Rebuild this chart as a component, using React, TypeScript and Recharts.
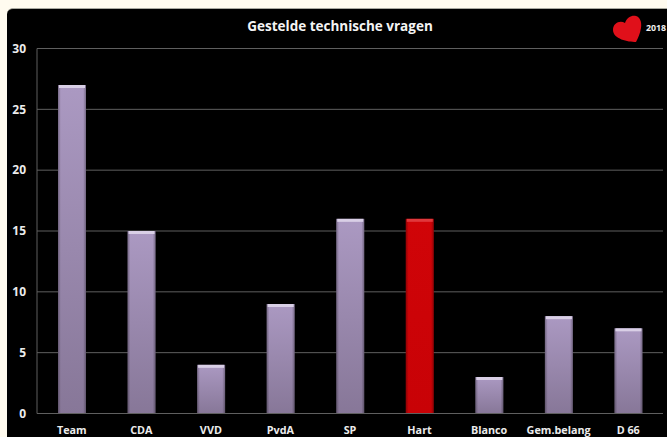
import { Bar, BarChart, CartesianGrid, XAxis, YAxis } from "recharts";

const partijen = ["Team", "CDA", "VVD", "PvdA", "SP", "Hart", "Blanco", "Gem.belang", "D 66"];
const vragen = [27, 15, 4, 9, 16, 16, 3, 8, 7];
const yTicks = [0, 5, 10, 15, 20, 25, 30];
const data = partijen.map((name, i) => ({ name, vragen: vragen[i] }));

const font = "'Open Sans', sans-serif";

// Balk met lichte bovenrand en donkere zijkanten, zoals het 3D-effect in Excel.
function GlossBar(props: any) {
  const { x, y, width, height, payload } = props;
  const isHart = payload.name === "Hart";
  return (
    <g>
      <rect x={x} y={y} width={width} height={height} fill={isHart ? "url(#hartFill)" : "url(#barFill)"} />
      <rect x={x} y={y} width={width} height={height} fill="url(#barEdge)" />
      <rect x={x + 1} y={y} width={width - 2} height={3} fill={isHart ? "#e0383c" : "#d9cfe6"} />
    </g>
  );
}

function tickStyle(size: number) {
  return { fill: "#ececec", fontSize: size, fontWeight: 700, fontFamily: font };
}

export default function App() {
  return (
    <div style={{ position: "absolute", left: 0, top: 0, width: 667, height: 437, background: "#fffbef", overflow: "hidden" }}>
      <div
        style={{
          position: "absolute",
          left: 7,
          top: 8,
          width: 660,
          height: 429,
          background: "#000",
          borderTop: "1px solid #a9a9a0",
          borderTopLeftRadius: 6,
        }}
      />
      <div style={{ position: "absolute", left: 0, top: 0 }}>
        <BarChart
          width={667}
          height={437}
          data={data}
          margin={{ top: 48.5, right: 4, bottom: 0, left: 7 }}
          barSize={28}
        >
          <defs>
            <linearGradient id="barFill" x1="0" y1="0" x2="0" y2="1">
              <stop offset="0" stopColor="#ab99c2" />
              <stop offset="1" stopColor="#877798" />
            </linearGradient>
            <linearGradient id="hartFill" x1="0" y1="0" x2="0" y2="1">
              <stop offset="0" stopColor="#d00408" />
              <stop offset="1" stopColor="#c80206" />
            </linearGradient>
            <linearGradient id="barEdge" x1="0" y1="0" x2="1" y2="0">
              <stop offset="0" stopColor="#000" stopOpacity={0.3} />
              <stop offset="0.1" stopColor="#000" stopOpacity={0} />
              <stop offset="0.9" stopColor="#000" stopOpacity={0} />
              <stop offset="1" stopColor="#000" stopOpacity={0.3} />
            </linearGradient>
          </defs>
          <CartesianGrid vertical={false} stroke="#5f5f5f" strokeWidth={1} />
          <XAxis
            dataKey="name"
            height={23.5}
            interval={0}
            tickLine={false}
            axisLine={{ stroke: "#5f5f5f" }}
            tick={tickStyle(10.8)}
            tickMargin={7}
          />
          <YAxis
            width={30}
            domain={[0, 30]}
            ticks={yTicks}
            tickLine={false}
            axisLine={{ stroke: "#5f5f5f" }}
            tick={tickStyle(12)}
            tickMargin={5}
          />
          <Bar dataKey="vragen" isAnimationActive={false} shape={GlossBar} />
          <text x={340} y={31} textAnchor="middle" fill="#f4f4f4" fontSize={13.5} fontWeight={700} fontFamily={font}>
            Gestelde technische vragen
          </text>
          <path
            d="M636 42 C628 42 613 39 613 30 C613 23 620 20 625 23 C627 17 632 15 636 16 C640 17 642 22 641 28 C640 34 638 38 636 42 Z"
            fill="#e0101a"
          />
          <text x={646} y={31} fill="#f0f0f0" fontSize={8.8} fontWeight={700} fontFamily={font}>
            2018
          </text>
        </BarChart>
      </div>
    </div>
  );
}
